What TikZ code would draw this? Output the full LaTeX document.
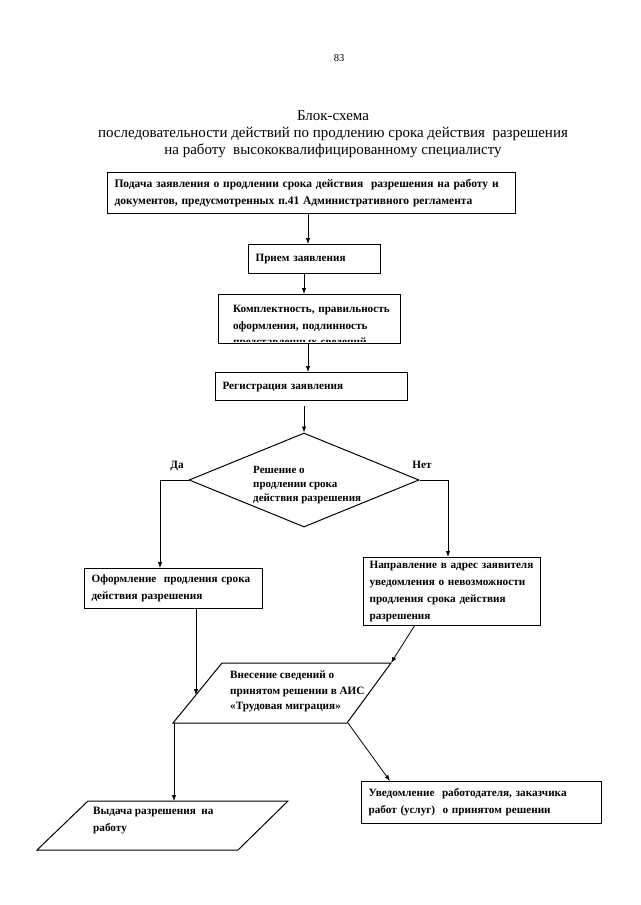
\documentclass[tikz,border=0pt]{standalone}
\usepackage{fontspec}
\setmainfont{Liberation Serif}
\usetikzlibrary{shapes.geometric,arrows.meta}
\newcommand\bxfont{\fontsize{11.2}{16.8}\selectfont\bfseries}
\newcommand\bxbigfont{\fontsize{11.5}{16.5}\selectfont\bfseries}
\newcommand\dmfont{\fontsize{11}{13.8}\selectfont\bfseries}
\newcommand\ttlfont{\fontsize{15}{17}\selectfont}
\newcommand\oneln[1]{\mbox{#1}}
\begin{document}
\begin{tikzpicture}[x=1pt,y=-1pt,
  box/.style={draw, line width=1.1pt, rectangle, anchor=north west, inner ysep=0pt, inner xsep=7pt, align=left, font=\bxfont},
  arr/.style={-{Latex[length=6pt,width=4.5pt]}, line width=0.8pt},
  lbl/.style={font=\bxfont, inner sep=0pt}]
\useasboundingbox (0,0) rectangle (640,905);
\fill[white] (0,0) rectangle (640,905);

% page number and title
\node[font=\fontsize{10.5}{12}\selectfont, inner sep=0pt] (pg) at (339,58) {83};
\node[font=\ttlfont, align=center, inner sep=0pt] (title) at (333,134)
  {Блок-схема\\последовательности действий по продлению срока действия\ \ разрешения\\на работу\ \ высококвалифицированному специалисту};

% x positions of vertical connectors
\coordinate (c308) at (308,0);
\coordinate (c304) at (304,0);
\coordinate (c160) at (160,0);
\coordinate (c448) at (448,0);
\coordinate (c196) at (196,0);
\coordinate (c390) at (390,0);

% boxes
\node[box, font=\bxbigfont, minimum width=408pt, minimum height=41pt, text width=394pt] (b1) at (107,172)
  {\oneln{Подача заявления о продлении срока действия\ \ разрешения на работу и}\\\oneln{документов, предусмотренных п.41 Административного регламента}};
\node[box, minimum width=132pt, minimum height=29pt, text width=118pt] (b2) at (248,244)
  {\oneln{Прием заявления}};
\node[box, minimum width=182pt, minimum height=49pt, text width=168pt,
  path picture={
    \clip (path picture bounding box.north west) rectangle ([yshift=2.5pt]path picture bounding box.south east);
    \node[anchor=north west, align=left, inner sep=0pt, font=\bxfont] at ([xshift=7pt,yshift=-7pt]path picture bounding box.north west)
      {\oneln{Комплектность, правильность}\\\oneln{оформления, подлинность}\\\oneln{представленных сведений}};
  }] (b3) at (218,294) {};
\node[box, minimum width=192pt, minimum height=28pt, text width=178pt] (b4) at (215,372)
  {\oneln{Регистрация заявления}};

% decision
\node[draw, diamond, line width=1pt, minimum width=230pt, minimum height=94pt, inner sep=0pt] (dia) at (304,480) {};
\node[anchor=north west, align=left, inner sep=0pt, font=\dmfont] (dtext) at (253,466)
  {\oneln{Решение о}\\\oneln{продлении срока}\\\oneln{действия разрешения}};
\node[lbl] (da) at (177,466) {Да};
\node[lbl] (net) at (422,465) {Нет};

\node[box, minimum width=178pt, minimum height=40pt, text width=164pt] (b5) at (84,568)
  {\oneln{Оформление\ \ продления срока}\\\oneln{действия разрешения}};
\node[box, minimum width=177pt, minimum height=68pt, text width=165pt, inner xsep=6pt] (b6) at (363,557)
  {\oneln{Направление в адрес заявителя}\\\oneln{уведомления о невозможности}\\\oneln{продления срока действия}\\\oneln{разрешения}};

% parallelogram 1
\coordinate (p1bl) at (173,723);
\coordinate (p1br) at (347,723);
\coordinate (p1tr) at (391,663);
\coordinate (p1tl) at (222,663);
\draw[line width=1pt] (p1bl) -- (p1br) -- (p1tr) -- (p1tl) -- cycle;
\node[anchor=north west, align=left, inner sep=0pt, font=\fontsize{11.2}{15.5}\selectfont\bfseries] (p1text) at (230,671)
  {\oneln{Внесение сведений о}\\\oneln{принятом решении в АИС}\\\oneln{«Трудовая миграция»}};

\node[box, minimum width=240pt, minimum height=42pt, text width=226pt] (b7) at (361,781)
  {\oneln{Уведомление\ \ работодателя, заказчика}\\\oneln{работ (услуг)\ \ о принятом решении}};

% parallelogram 2
\coordinate (p2bl) at (37,850);
\coordinate (p2br) at (238,850);
\coordinate (p2tr) at (288,801);
\coordinate (p2tl) at (88,801);
\draw[line width=1pt] (p2bl) -- (p2br) -- (p2tr) -- (p2tl) -- cycle;
\node[anchor=north west, align=left, inner sep=0pt, font=\bxfont] (p2text) at (93,807)
  {\oneln{Выдача разрешения\ \ на}\\\oneln{работу}};

% connector end points
\coordinate (p1in) at (196,695);
\coordinate (p1out) at (174,723);
\coordinate (p2in) at (174,801);
\coordinate (p1out2) at (348,723);
\coordinate (b6out) at (415,625);

% connectors
\draw[arr] (b1.south -| c308) -- (b2.north -| c308);
\draw[arr] (b2.south -| c304) -- (b3.north -| c304);
\draw[arr] (b3.south -| c308) -- (b4.north -| c308);
\draw[arr] (b4.south -| c304) ++(0,5) -- (dia.north);
\draw[arr] (dia.west) -| (b5.north -| c160);
\draw[arr] (dia.east) -| (b6.north -| c448);
\draw[arr] (b5.south -| c196) -- (p1in);
\draw[arr] (b6out) -- (p1tr);
\draw[arr] (p1out) -- (p2in);
\draw[arr] (p1out2) -- (b7.north -| c390);
\end{tikzpicture}
\end{document}
